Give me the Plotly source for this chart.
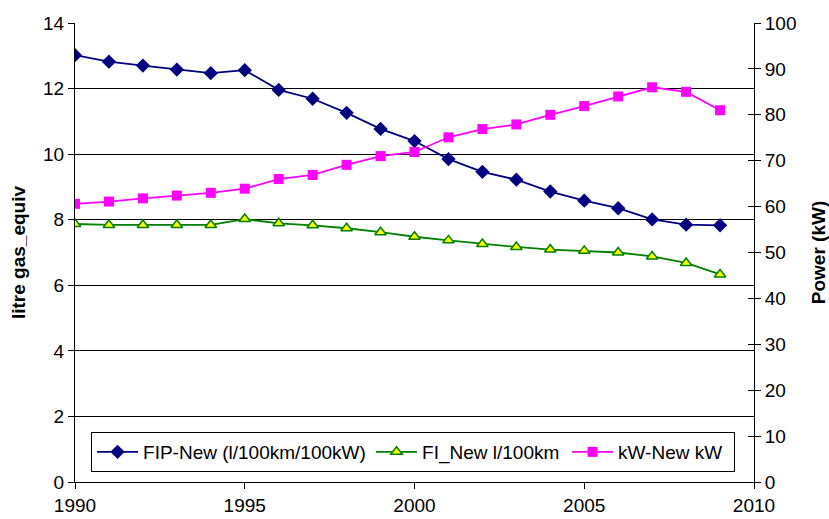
import plotly.graph_objects as go

years = list(range(1990, 2010))

fip_new = [13.02, 12.82, 12.70, 12.58, 12.47, 12.56, 11.96, 11.69, 11.26, 10.77,
           10.40, 9.85, 9.46, 9.22, 8.86, 8.58, 8.35, 8.01, 7.85, 7.83]
fi_new = [7.87, 7.84, 7.84, 7.84, 7.84, 8.02, 7.89, 7.83, 7.74, 7.62,
          7.48, 7.37, 7.26, 7.17, 7.09, 7.05, 7.00, 6.88, 6.68, 6.33]
kw_new = [60.6, 61.1, 61.8, 62.4, 63.0, 63.9, 66.0, 66.9, 69.1, 71.0,
          71.9, 75.1, 76.9, 77.9, 80.0, 81.9, 84.0, 86.0, 85.0, 81.0]

font = dict(family="Arial, Liberation Sans, sans-serif", size=19, color="black")

fig = go.Figure()
fig.add_trace(go.Scatter(
    x=years, y=fip_new, name="FIP-New (l/100km/100kW)", mode="lines+markers",
    line=dict(color="#000080", width=1.8),
    marker=dict(symbol="diamond", size=11, color="#000080"),
    legendwidth=223,
))
fig.add_trace(go.Scatter(
    x=years, y=fi_new, name="FI_New l/100km", mode="lines+markers",
    line=dict(color="#008000", width=1.8),
    marker=dict(symbol="triangle-up", size=10, color="#FFFF00",
                line=dict(color="#008000", width=1.5)),
    legendwidth=140,
))
fig.add_trace(go.Scatter(
    x=years, y=kw_new, name="kW-New kW", mode="lines+markers", yaxis="y2",
    line=dict(color="#FF00FF", width=1.8),
    marker=dict(symbol="square", size=10, color="#FF00FF"),
    legendwidth=111,
))
# empty trace holding the inner half of the right-hand tick marks
fig.add_trace(go.Scatter(x=[None], y=[None], yaxis="y3", showlegend=False,
                         hoverinfo="skip"))

fig.update_layout(
    width=829, height=519,
    margin=dict(l=75, r=75, t=23, b=37),
    paper_bgcolor="white", plot_bgcolor="white",
    font=font,
    showlegend=True,
    legend=dict(
        orientation="h", x=0.0236, y=0.0218, xanchor="left", yanchor="bottom",
        bgcolor="white", bordercolor="black", borderwidth=1,
        font=dict(size=19), itemwidth=41, tracegroupgap=0,
    ),
    xaxis=dict(
        range=[1990, 2010], tickvals=[1990, 1995, 2000, 2005, 2010],
        showgrid=False, zeroline=False, automargin=False,
        showline=True, linecolor="black", linewidth=1,
        ticks="outside", ticklen=6, tickcolor="black",
        tickfont=font,
    ),
    yaxis=dict(
        range=[0, 14], dtick=2, automargin=False,
        showgrid=True, gridcolor="black", gridwidth=1, zeroline=False,
        showline=True, linecolor="black", linewidth=1,
        ticks="outside", ticklen=6, tickcolor="black",
        tickfont=font,
        title=dict(text="<b>litre gas_equiv</b>", font=font, standoff=12),
    ),
    yaxis2=dict(
        range=[0, 100], dtick=10, overlaying="y", side="right", automargin=False,
        showgrid=False, zeroline=False,
        showline=True, linecolor="black", linewidth=1,
        ticks="outside", ticklen=6, tickcolor="black",
        tickfont=font,
        title=dict(text="<b>Power (kW)</b>", font=font, standoff=20),
    ),
    yaxis3=dict(
        range=[0, 100], dtick=10, overlaying="y", side="right", anchor="x",
        automargin=False, showgrid=False, zeroline=False, showline=False,
        ticks="inside", ticklen=6, tickcolor="black", showticklabels=False,
    ),
)

fig.write_html("out.html")
